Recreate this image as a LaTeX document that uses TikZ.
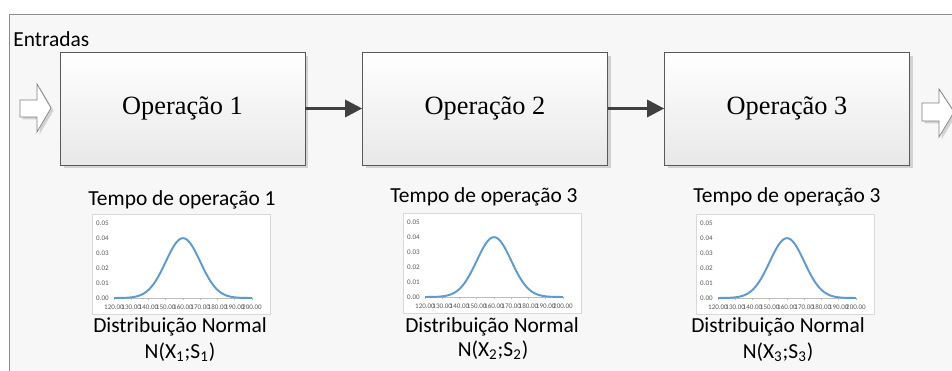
\documentclass[tikz,border=0pt]{standalone}
\usepackage{fontspec}
\setmainfont{Carlito}
\newfontfamily\opfont{Liberation Serif}
\usetikzlibrary{arrows.meta,shadows}
\definecolor{curveblue}{HTML}{5B9BD5}
\definecolor{linkgray}{HTML}{404040}
\definecolor{axisgray}{HTML}{595959}
\definecolor{framegray}{HTML}{8C8C8C}

% one small normal curve chart: name, top left x, top left y
\newcommand{\normalchart}[3]{%
 \node[chartbox,anchor=north west] (#1) at (#2,#3) {};
 \begin{scope}[shift={(#1.north west)}]
  \draw[axisgray!40] (22,84) -- (161,84);
  \foreach \i in {0,...,5}
   \node[ylbl] (#1y\i) at (17,84-15*\i) {0.0\i};
  \foreach \v [count=\i from 0] in {120,130,...,200}
   {\draw[axisgray!40] ({22+17.25*\i},84) -- ++(0,2);
    \node[xlbl] (#1x\i) at ({22+17.25*\i},93) {\v.00};}
  \draw[curve] plot[domain=120:200,samples=81,smooth]
   ({22+(\x-120)*138/80},{84-59.84*exp(-((\x-160)^2)/200)});
 \end{scope}}

\begin{document}
\begin{tikzpicture}[x=0.02cm,y=-0.02cm,
 opbox/.style={draw=axisgray,minimum width=4.9cm,minimum height=2.26cm,
  top color=white,bottom color=gray!18,font=\opfont\fontsize{15}{18}\selectfont,
  drop shadow={shadow xshift=0.07cm,shadow yshift=-0.07cm,fill=gray!35,opacity=1}},
 link/.style={linkgray,line width=1.7pt,-{Triangle[length=0.34cm,width=0.34cm]}},
 blockarrow/.style={draw=gray,fill=white,
  drop shadow={shadow xshift=0.05cm,shadow yshift=-0.05cm,fill=gray!35,opacity=1}},
 lbl/.style={font=\fontsize{12.2}{14}\selectfont,inner sep=0pt},
 chartbox/.style={draw=gray!30,fill=white,minimum width=3.56cm,minimum height=2cm,inner sep=0pt},
 ylbl/.style={anchor=east,text=axisgray,font=\fontsize{4}{5}\selectfont,inner sep=0pt},
 xlbl/.style={text=axisgray,font=\fontsize{4}{5}\selectfont,inner sep=0pt},
 curve/.style={curveblue,line width=1.1pt}]
\useasboundingbox (0,0) rectangle (952,371);
% frame
\draw[framegray,fill=gray!6] (9,14) rectangle (975,395);
\node[lbl,anchor=base west] (entradas) at (13,47) {Entradas};
% in and out arrows
\draw[blockarrow] (20,100) -- (37,100) -- (37,84) -- (51,108) -- (37,132) -- (37,117) -- (20,117) -- cycle;
\draw[blockarrow] (922,103) -- (939,103) -- (939,89) -- (954,112) -- (939,137) -- (939,121) -- (922,121) -- cycle;
% operations
\node[opbox] (op1) at (182.5,108.5) {Operação 1};
\node[opbox] (op2) at (485,108.5) {Operação 2};
\node[opbox] (op3) at (787,108.5) {Operação 3};
\draw[link] (op1) -- (op2);
\draw[link] (op2) -- (op3);
% times
\node[lbl] (tempo1) at (182,200) {Tempo de operação 1};
\node[lbl] (tempo2) at (484,197) {Tempo de operação 3};
\node[lbl] (tempo3) at (787,197) {Tempo de operação 3};
\normalchart{chart1}{92}{214}
\normalchart{chart2}{403}{213}
\normalchart{chart3}{696}{214}
\node[lbl] (dist1) at (180,327) {Distribuição Normal};
\node[lbl] (dist2) at (492,327) {Distribuição Normal};
\node[lbl] (dist3) at (778,327) {Distribuição Normal};
\node[lbl] (par1) at (180,352) {N(X\textsubscript{1};S\textsubscript{1})};
\node[lbl] (par2) at (493,350) {N(X\textsubscript{2};S\textsubscript{2})};
\node[lbl] (par3) at (778,352) {N(X\textsubscript{3};S\textsubscript{3})};
\end{tikzpicture}
\end{document}
